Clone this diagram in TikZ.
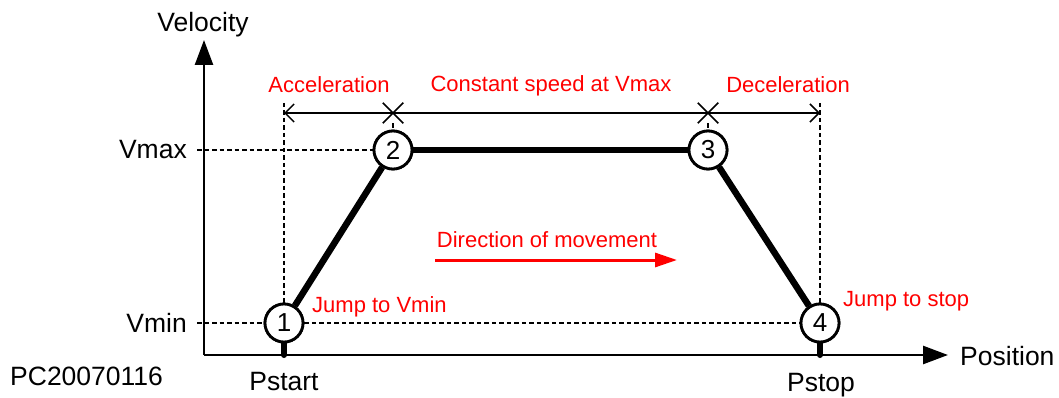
\documentclass[tikz,border=0pt]{standalone}
\usepackage{fontspec}
\setmainfont{Liberation Sans}
\usetikzlibrary{arrows.meta,shapes.misc}
\tikzset{
  blk/.style={font=\fontsize{26.5}{30}\selectfont, inner sep=0pt},
  rlbl/.style={font=\fontsize{22}{26}\selectfont, text=red, inner sep=0pt},
  num/.style={circle, draw, line width=2.8pt, minimum size=38pt, inner sep=0pt, fill=white, font=\fontsize{26}{28}\selectfont},
  axis/.style={line width=2.5pt, -{Triangle[length=25pt,width=18pt]}},
  guide/.style={line width=1.7pt, dash pattern=on 4.5pt off 3pt},
  profile/.style={line width=6.5pt},
  stub/.style={line width=6pt, line cap=round},
  span/.style={line width=1.5pt, {Straight Barb[length=9pt,width=18pt,line width=1.5pt]}-{Straight Barb[length=9pt,width=18pt,line width=1.5pt]}},
  xmark/.style={draw, cross out, minimum size=19pt, inner sep=0pt, line width=1.5pt},
  dirarrow/.style={line width=3pt, red, -{Triangle[length=22pt,width=14pt]}}
}
\begin{document}
\begin{tikzpicture}[x=1pt,y=-1pt]
\useasboundingbox (0,0) rectangle (1059,398);
% coordinates
\coordinate (o) at (204,355);
\coordinate (ytop) at (204,40);
\coordinate (xend) at (948,355);
\coordinate (vmaxl) at (197,150);
\coordinate (vminl) at (197,323);
\coordinate (a1) at (284,113);
\coordinate (a4) at (820,113);
\coordinate (t1) at (284,103);
\coordinate (t4) at (820,103);
\coordinate (p1) at (284,355);
\coordinate (p4) at (820,355);
\coordinate (d1) at (435,260);
\coordinate (d2) at (677,260);
% circles (placed first for names)
\node[num] (c1) at (284,323) {1};
\node[num] (c2) at (393,150) {2};
\node[num] (c3) at (708,150) {3};
\node[num] (c4) at (820,323) {4};
\node[xmark] (x2) at (393,113) {};
\node[xmark] (x3) at (708,113) {};
% dashed guides
\draw[guide] (vmaxl) -- (c2.west);
\draw[guide] (vminl) -- (c1.west);
\draw[guide] (c1.east) -- (c4.west);
\draw[guide] (t1) -- (c1.north);
\draw[guide] (t4) -- (c4.north);
\draw[guide] (x2.south) -- (c2.north);
\draw[guide] (x3.south) -- (c3.north);
% span arrow
\draw[span] (a1) -- (a4);
% axes
\draw[axis] (o) -- (ytop);
\draw[axis] (o) -- (xend);
% profile
\draw[profile] (c1) -- (c2);
\draw[profile] (c2) -- (c3);
\draw[profile] (c3) -- (c4);
\draw[stub] (c1.south) -- (p1);
\draw[stub] (c4.south) -- (p4);
% redraw circles on top
\node[num] at (c1) {1};
\node[num] at (c2) {2};
\node[num] at (c3) {3};
\node[num] at (c4) {4};
% direction arrow
\draw[dirarrow] (d1) -- (d2);
% black labels
\node[blk, anchor=base] (lvel) at (203,32) {Velocity};
\node[blk, anchor=base east] (lvmax) at (187,159) {Vmax};
\node[blk, anchor=base east] (lvmin) at (187,332) {Vmin};
\node[blk, anchor=base west] (lpos) at (960,365) {Position};
\node[blk, anchor=base] (lps) at (284,390) {Pstart};
\node[blk, anchor=base] (lpe) at (821,391) {Pstop};
\node[blk, anchor=base west] (lpc) at (10,385) {PC20070116};
% red labels
\node[rlbl, anchor=base] (lacc) at (329,93) {Acceleration};
\node[rlbl, anchor=base] (lcon) at (551,92) {Constant speed at Vmax};
\node[rlbl, anchor=base] (ldec) at (788,93) {Deceleration};
\node[rlbl, anchor=base west] (ljv) at (312,312) {Jump to Vmin};
\node[rlbl, anchor=base west] (ljs) at (843,306) {Jump to stop};
\node[rlbl, anchor=base] (ldir) at (547,247) {Direction of movement};
\end{tikzpicture}
\end{document}
